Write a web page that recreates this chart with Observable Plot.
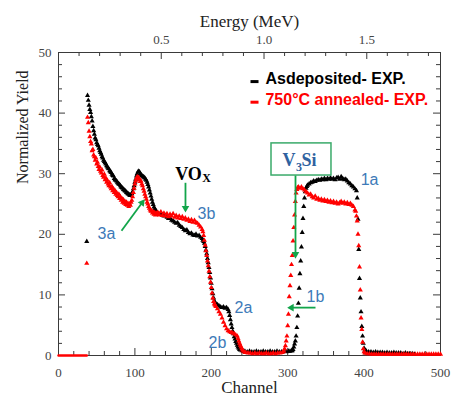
<!DOCTYPE html>
<html><head><meta charset="utf-8">
<script src="https://cdn.jsdelivr.net/npm/d3@7"></script>
<script src="https://cdn.jsdelivr.net/npm/@observablehq/plot@0.6"></script>
<style>body{margin:0;background:#fff}</style>
</head><body><div id="chart"></div>
<script>
// ---------- data (channel, normalized yield) ----------
const asDeposited = [
[37,18.8],[38,42.9],[39,42.1],[40,41.3],[41,40.6],[42,40.1],[43,39.4],[44,38.7],[45,37.8],[46,37.1],[47,36.5],[48,35.9],[49,35.6],[50,35.1],
[51,34.8],[52,34.6],[53,34.2],[54,33.8],[55,33.5],[56,33.2],[57,32.8],[58,32.6],[59,32.2],[60,32.0],[61,31.8],[62,31.6],[63,31.3],[64,31.1],
[65,30.9],[66,30.8],[67,30.5],[68,30.3],[69,30.2],[70,29.9],[71,29.7],[72,29.6],[73,29.2],[74,29.0],[75,28.9],[76,28.8],[77,28.6],[78,28.4],
[79,28.3],[80,28.2],[81,28.0],[82,27.8],[83,27.7],[84,27.6],[85,27.4],[86,27.3],[87,27.2],[88,27.1],[89,26.9],[90,26.8],[91,26.7],[92,26.6],
[93,26.5],[94,26.4],[95,26.5],[96,26.7],[97,27.0],[98,27.5],[99,28.0],[100,28.6],[101,29.1],[102,29.6],[103,30.0],[104,30.3],[105,30.4],
[106,30.3],[107,30.0],[108,29.8],[109,29.7],[110,29.6],[111,29.5],[112,29.4],[113,29.3],[114,29.1],[115,28.9],[116,28.6],[117,28.2],[118,27.8],
[119,27.3],[120,26.8],[121,26.3],[122,25.8],[123,25.3],[124,24.9],[125,24.5],[126,24.2],[127,24.0],[128,23.8],[129,23.6],[130,23.5],
[132,23.3],[134,23.4],[136,23.2],[138,23.0],[140,23.1],[142,22.8],[144,22.6],[146,22.7],[148,22.3],[150,22.2],[152,22.0],[154,21.8],
[156,21.9],[158,21.5],[160,21.3],[162,21.1],[164,20.8],[166,20.6],[168,20.7],[170,20.3],[172,20.1],[174,20.2],[176,19.9],[178,19.8],
[180,20.0],[182,19.7],[184,19.8],[186,19.5],[188,19.3],[189,19.0],[190,18.8],[191,18.5],[192,18.0],[193,17.4],[194,16.8],[195,16.0],
[196,15.3],[197,14.5],[198,13.7],[199,12.8],[200,11.9],[201,11.0],[202,10.2],[203,9.5],[204,9.0],[205,8.7],[206,8.5],[208,8.4],[210,8.2],
[212,8.0],[214,7.9],[216,8.0],[218,7.8],[220,7.9],[222,7.6],[223,7.2],[224,6.6],[225,5.9],[226,5.2],[227,4.6],[228,4.0],[229,3.6],[230,3.1],
[231,2.7],[232,2.3],[233,2.0],[234,1.7],[235,1.4],[236,1.2],[237,1.0],[238,0.9],[240,0.8],[242,0.7],
[244,0.7],[247,0.6],[250,0.7],[253,0.6],[256,0.6],[259,0.7],[262,0.6],[265,0.6],[268,0.7],[271,0.6],[274,0.6],[277,0.7],[280,0.6],[283,0.6],
[286,0.7],[289,0.6],[292,0.6],[295,0.7],[298,0.6],[301,0.7],[303,0.7],[305,0.8],[306,0.8],[307,1.0],[308,1.4],[309,1.9],[310,2.4],
[311,3.2],[312,4.6],[313,6.5],[314,8.6],[315,11.1],[316,13.5],[317,15.6],[318,17.9],[319,20.3],[320,22.6],[321,24.6],[322,26.0],[323,27.0],
[324,27.6],[325,27.9],[326,28.1],[328,28.3],[330,28.5],[332,28.6],[334,28.8],[336,28.7],[338,28.9],[340,29.0],[342,28.9],[344,29.1],
[346,29.0],[348,29.2],[350,29.0],[352,29.2],[354,29.1],[356,29.3],[358,29.1],[360,29.2],[362,29.0],[364,29.3],[366,29.4],[368,29.1],
[370,29.5],[372,29.2],[374,29.0],[376,29.1],[378,28.8],[380,28.5],[382,28.3],[384,28.0],[386,27.8],[388,27.5],[390,27.2],[391,26.0],
[392,22.5],[393,17.5],[394,12.7],[395,9.5],[396,7.2],[397,4.8],[398,3.2],[399,2.0],[400,1.2],[401,0.9],[402,0.8],
[403,0.7],[406,0.6],[409,0.6],[412,0.5],[415,0.6],[418,0.5],[421,0.5],[424,0.5],[427,0.4],[430,0.5],[433,0.4],[436,0.4],[439,0.5],
[442,0.4],[445,0.4],[448,0.4],[451,0.3],[454,0.4],[457,0.3],[460,0.3],[463,0.3],[466,0.2]
];
const annealed = [
[37,15.2],[38,39.3],[39,38.4],[40,37.0],[41,36.1],[42,35.3],[43,34.9],[44,33.8],[45,34.0],[46,33.1],[47,32.8],[48,32.2],[49,32.6],[50,31.6],
[51,31.9],[52,31.2],[53,30.7],[54,31.1],[55,30.4],[56,30.1],[57,30.6],[58,29.7],[59,29.4],[60,29.9],[61,29.0],[62,29.3],[63,28.6],[64,28.9],
[65,28.3],[66,28.0],[67,28.5],[68,27.8],[69,27.5],[70,27.9],[71,27.2],[72,27.5],[73,26.9],[74,27.2],[75,26.6],[76,26.9],[77,26.4],[78,26.2],
[79,26.6],[80,25.9],[81,26.2],[82,25.6],[83,25.9],[84,25.3],[85,25.7],[86,25.1],[87,25.4],[88,24.9],[89,25.3],[90,24.8],[91,25.1],[92,24.6],
[93,25.0],[94,24.8],[95,25.3],[96,25.6],[97,26.2],[98,26.9],[99,27.6],[100,28.3],[101,28.8],[102,29.2],[103,29.5],[104,29.3],[105,29.4],
[106,29.0],[107,28.7],[108,28.8],[109,28.3],[110,28.0],[111,27.5],[112,27.1],[113,26.6],[114,26.2],[115,25.8],[116,25.3],[117,25.0],
[118,24.6],[119,24.3],[120,24.0],[121,23.8],[122,23.9],[123,23.5],[124,23.7],[125,23.3],[126,23.6],[127,23.2],[128,23.5],[129,23.3],
[130,23.6],[132,23.2],[134,23.7],[136,23.1],[138,23.5],[140,23.0],[142,23.4],[144,22.9],[146,23.3],[148,23.0],[150,23.4],[152,22.8],
[154,23.1],[156,22.7],[158,23.0],[160,22.6],[162,22.9],[164,22.5],[166,22.7],[168,22.3],[170,22.5],[172,22.1],[174,22.4],[176,22.0],
[178,22.3],[180,21.9],[182,21.8],[184,21.5],[186,21.2],[188,20.8],[189,20.4],[190,19.8],[191,19.0],[192,18.2],[193,17.3],[194,16.5],
[195,15.6],[196,14.8],[197,13.9],[198,13.0],[199,12.1],[200,11.2],[201,10.3],[202,9.5],[203,8.9],[204,8.5],[205,8.3],[206,8.1],[208,7.7],
[210,7.2],[212,6.8],[214,6.2],[216,5.5],[218,4.9],[220,4.4],[222,4.1],[224,3.9],[226,3.8],[228,3.7],[230,3.6],[232,3.4],[234,3.2],
[235,2.8],[236,2.4],[237,2.0],[238,1.7],[239,1.4],[240,1.1],[241,0.9],[242,0.7],[244,0.5],
[245,0.5],[248,0.4],[251,0.4],[254,0.3],[257,0.4],[260,0.3],[263,0.4],[266,0.3],[269,0.3],[272,0.4],[275,0.3],[278,0.3],[281,0.4],
[284,0.3],[287,0.4],[290,0.4],[293,0.5],[295,0.7],[296,1.1],[297,1.6],[298,2.4],[299,3.2],[300,4.9],[301,6.8],[302,9.7],[303,11.5],
[304,13.2],[305,15.0],[306,16.5],[307,18.9],[308,21.1],[309,23.2],[310,25.4],[311,26.8],[312,27.4],[313,27.7],[314,27.8],[316,27.6],
[318,27.8],[320,27.5],[322,27.3],[324,27.0],[326,26.8],[328,26.5],[330,26.6],[332,26.2],[334,26.0],[336,26.3],[338,25.8],[340,25.9],
[342,25.6],[344,25.8],[346,25.5],[348,25.7],[350,25.4],[352,25.6],[354,25.3],[356,25.5],[358,25.2],[360,25.4],[362,25.1],[364,25.3],
[366,25.0],[368,25.2],[370,25.4],[372,25.1],[374,25.3],[376,25.0],[378,25.2],[380,24.9],[382,25.1],[384,24.8],[386,24.6],[388,24.0],
[389,23.8],[390,23.0],[391,22.2],[392,20.0],[393,18.1],[394,14.6],[395,10.8],[396,6.2],[397,4.3],[398,2.2],[399,1.1],[400,0.6],
[401,0.4],[404,0.3],[407,0.3],[410,0.2],[413,0.2],[416,0.2],[419,0.2],[422,0.2],[425,0.2],[428,0.2],[431,0.2],[434,0.2],[437,0.2],
[440,0.2],[443,0.2],[446,0.2],[449,0.2],[452,0.2],[455,0.2],[458,0.2],[461,0.2],[464,0.2],[467,0.2],[470,0.2],[473,0.2],[476,0.2],
[479,0.2],[482,0.2],[485,0.2],[488,0.2],[491,0.2],[494,0.2],[497,0.2],[500,0.2]
];
const annealedBaseline = [[0,0],[37,0]];

const seriesNames = ["Asdeposited- EXP.", "750\u00B0C annealed- EXP."];
const channelTicks = [0,100,200,300,400,500];
const channelMinorTicks = [20,40,60,80,120,140,160,180,220,240,260,280,320,340,360,380,420,440,460,480];
const yieldTicks = [0,10,20,30,40,50];
const yieldMinorTicks = [2,4,6,8,12,14,16,18,22,24,26,28,32,34,36,38,42,44,46,48];
const energyTicks = [0.5,1.0,1.5];
const energyMinorTicks = [0.1,0.2,0.3,0.4,0.6,0.7,0.8,0.9,1.1,1.2,1.3,1.4,1.6,1.7,1.8];
const channelsPerMeV = 269;

// annotations (data coordinates)
const peakLabels = [
  {text:"3a", x:62.8, y:20.1},
  {text:"3b", x:193.7, y:23.4},
  {text:"2a", x:242.1, y:7.8},
  {text:"2b", x:208.1, y:2.1},
  {text:"1a", x:407.1, y:29.0},
  {text:"1b", x:336.4, y:9.6}
];
const arrows = [
  {x1:166.2, y1:28.5, x2:166.2, y2:24.3, rotate:180},
  {x1:82.5, y1:20.6, x2:109.4, y2:25.2, rotate:37},
  {x1:310.2, y1:29.7, x2:310.2, y2:16.7, rotate:180},
  {x1:336.4, y1:7.9, x2:305.0, y2:7.9, rotate:-90}
];
const v3siBox = [{x1:278.8, x2:357.3, y1:29.7, y2:35.0}];

// ---------- layout ----------
const W = 451, H = 405;
const mT = 52, mR = 11, mB = 50, mL = 58;
const pxX = (W - mL - mR) / 500, pxY = (H - mT - mB) / 50;
const majorLen = 7, minorLen = 4;
const axisColor = "#3a3a3a", tickText = "#444";
const serif = "'Liberation Serif', 'Times New Roman', serif";
const green = "#12a54a", blue = "#3d7ab8";

const E2C = e => e * channelsPerMeV;

const plot = Plot.plot({
  width: W, height: H,
  marginTop: mT, marginRight: mR, marginBottom: mB, marginLeft: mL,
  style: {fontFamily: serif, background: "#fff"},
  x: {domain: [0, 500]},
  y: {domain: [0, 50]},
  marks: [
    Plot.ruleX(channelTicks, {y1: 0, y2: majorLen / pxY, stroke: axisColor}),
    Plot.ruleX(channelMinorTicks, {y1: 0, y2: minorLen / pxY, stroke: axisColor}),
    Plot.ruleX(energyTicks.map(E2C), {y1: 50, y2: 50 - majorLen / pxY, stroke: axisColor}),
    Plot.ruleX(energyMinorTicks.map(E2C), {y1: 50, y2: 50 - minorLen / pxY, stroke: axisColor}),
    Plot.ruleY(yieldTicks, {x1: 0, x2: majorLen / pxX, stroke: axisColor}),
    Plot.ruleY(yieldMinorTicks, {x1: 0, x2: minorLen / pxX, stroke: axisColor}),
    Plot.ruleY(yieldTicks, {x1: 500, x2: 500 - majorLen / pxX, stroke: axisColor}),
    Plot.ruleY(yieldMinorTicks, {x1: 500, x2: 500 - minorLen / pxX, stroke: axisColor}),
    Plot.frame({stroke: axisColor}),
    Plot.axisX({anchor: "bottom", ticks: channelTicks, tickSize: 0, tickPadding: 12, fontSize: 13, color: tickText, label: null, fontFamily: serif}),
    Plot.axisX({anchor: "top", ticks: energyTicks.map(E2C), tickFormat: d => (d / channelsPerMeV).toFixed(1), tickSize: 0, tickPadding: 9, fontSize: 13, color: tickText, label: null, fontFamily: serif}),
    Plot.axisY({anchor: "left", ticks: yieldTicks, tickSize: 0, tickPadding: 7, fontSize: 13, color: tickText, label: null, fontFamily: serif}),
    Plot.text(["Channel"], {frameAnchor: "bottom", dy: 37, fontSize: 17, fill: "#222", fontFamily: serif}),
    Plot.text(["Energy (MeV)"], {frameAnchor: "top", dy: -38, fontSize: 17, fill: "#222", fontFamily: serif}),
    Plot.text(["Normalized Yield"], {frameAnchor: "left", rotate: -90, dx: -36, dy: -20, fontSize: 16, fill: "#222", fontFamily: serif}),
    Plot.line(annealedBaseline, {x: d => d[0], y: d => d[1], stroke: "#ff0000", strokeWidth: 2.5}),
    Plot.dot(asDeposited, {x: d => d[0], y: d => d[1], symbol: "triangle", r: 1.9, fill: "#000"}),
    Plot.dot(annealed, {x: d => d[0], y: d => d[1], symbol: "triangle", r: 1.9, fill: "#ff0000"}),
    Plot.link([0, 1], {x1: 251.3, x2: 261.8, y1: i => [45.2, 41.8][i], y2: i => [45.2, 41.8][i], stroke: i => ["#000", "#ff0000"][i], strokeWidth: 3}),
    Plot.text([0, 1], {x: 270.9, y: i => [45.6, 42.1][i], text: i => seriesNames[i], fill: i => ["#000", "#ff0000"][i], textAnchor: "start", fontSize: 16, fontWeight: "bold", fontFamily: "'Liberation Sans Narrow', 'Arial Narrow', 'Liberation Sans', sans-serif", ariaLabel: "legend"}),
    Plot.rect(v3siBox, {x1: "x1", x2: "x2", y1: "y1", y2: "y2", fill: "#fff", stroke: "#3aaa6a", strokeWidth: 1.5}),
    Plot.link(arrows, {x1: "x1", y1: "y1", x2: "x2", y2: "y2", stroke: green, strokeWidth: 1.8}),
    Plot.dot(arrows, {x: "x2", y: "y2", symbol: "triangle", r: 2.8, fill: green, rotate: "rotate"}),
    Plot.text(peakLabels, {x: "x", y: "y", text: "text", fill: blue, fontSize: 16, fontFamily: "'Liberation Sans', sans-serif"}),
    Plot.text(["VO"], {x: 170.2, y: 29.9, fontSize: 18, fontWeight: "bold", fill: "#000", fontFamily: serif}),
    Plot.text(["X"], {x: 193.7, y: 29.2, fontSize: 12, fontWeight: "bold", fill: "#000", fontFamily: serif}),
    Plot.text(["V"], {x: 301.7, y: 32.2, fontSize: 18, fontWeight: "bold", fill: "#2f62a0", fontFamily: serif}),
    Plot.text(["3"], {x: 314.8, y: 31.0, fontSize: 12, fontWeight: "bold", fill: "#2f62a0", fontFamily: serif}),
    Plot.text(["Si"], {x: 327.9, y: 32.2, fontSize: 18, fontWeight: "bold", fill: "#2f62a0", fontFamily: serif})
  ]
});
document.getElementById("chart").appendChild(plot);
const widths = [115, 140];
plot.querySelectorAll('g[aria-label="legend"] text').forEach((t, i) => {
  t.setAttribute("textLength", widths[i]);
  t.setAttribute("lengthAdjust", "spacingAndGlyphs");
});
</script>
</body></html>
